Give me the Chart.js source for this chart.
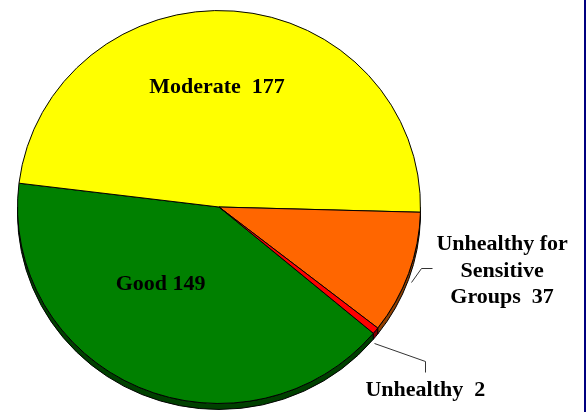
<!DOCTYPE html>
<html>
<head>
<meta charset="utf-8">
<script src="https://cdn.jsdelivr.net/npm/chart.js@4.4.1/dist/chart.umd.min.js"></script>
<style>
  html, body { margin: 0; padding: 0; background: #fff; }
  #wrap { width: 584px; height: 412px; border-right: 2px solid #000080; }
</style>
</head>
<body>
<div id="wrap"><canvas id="aqi" width="584" height="412"></canvas></div>
<script>
// AQI days per category
const categories = ['Good', 'Moderate', 'Unhealthy for Sensitive Groups', 'Unhealthy'];
const dayCounts = [149, 177, 37, 2];
const topColors = ['#008000', '#FFFF00', '#FF6600', '#FF0000'];
const sideColors = ['#004000', '#7F7F00', '#8F3F00', '#7F0000'];

// label text, split into lines
const labelLines = [
    ['Good 149'],
    ['Moderate  177'],
    ['Unhealthy for', 'Sensitive', 'Groups  37'],
    ['Unhealthy  2']
];
// label anchors in radius units from the pie centre
const labelSpots = [
    { x: -0.29, y: 0.395 },
    { x: -0.01, y: -0.61 },
    { x: 1.405, y: 0.325 },
    { x: 1.024, y: 0.934 }
];
// leader lines (radius units), null = none
const leaders = [
    null,
    null,
    [[1.057, 0.31], [1.002, 0.31], [0.953, 0.381]],
    [[0.770, 0.690], [1.022, 0.782], [1.022, 0.838]]
];

const squash = 0.975;   // pie is a bit flatter than round
const depth = 6;        // thickness of the 3D rim

const pie3d = {
    id: 'pie3d',
    beforeDatasetsDraw(chart) {
        const ctx = chart.ctx;
        const arcs = chart.getDatasetMeta(0).data;
        const cx = arcs[0].x, cy = arcs[0].y, r = arcs[0].outerRadius;
        ctx.save();
        ctx.translate(0, cy);
        ctx.scale(1, squash);
        ctx.translate(0, -cy);
        const d = depth / squash;
        arcs.forEach((a, i) => {
            const a0 = a.startAngle, a1 = a.endAngle;
            for (let k = -1; k <= 2; k++) {
                const lo = Math.max(a0, 2 * Math.PI * k);
                const hi = Math.min(a1, 2 * Math.PI * k + Math.PI);
                if (hi <= lo) continue;
                ctx.beginPath();
                ctx.arc(cx, cy, r, lo, hi);
                ctx.arc(cx, cy + d, r, hi, lo, true);
                ctx.closePath();
                ctx.fillStyle = sideColors[i];
                ctx.fill();
                ctx.lineWidth = 1;
                ctx.strokeStyle = '#000';
                ctx.stroke();
            }
        });
    },
    afterDatasetsDraw(chart) {
        const ctx = chart.ctx;
        ctx.restore();
        const a = chart.getDatasetMeta(0).data[0];
        const cx = a.x, cy = a.y, rx = a.outerRadius, ry = a.outerRadius * squash;
        ctx.save();
        // leader lines
        ctx.strokeStyle = '#333';
        ctx.lineWidth = 1;
        leaders.forEach(pts => {
            if (!pts) return;
            ctx.beginPath();
            pts.forEach((p, j) => {
                const px = Math.round(cx + p[0] * rx) + 0.5;
                const py = Math.round(cy + p[1] * ry) + 0.5;
                if (j === 0) ctx.moveTo(px, py); else ctx.lineTo(px, py);
            });
            ctx.stroke();
        });
        // labels
        ctx.fillStyle = '#000';
        ctx.font = 'bold 22px "Liberation Serif", "Times New Roman", serif';
        ctx.textAlign = 'center';
        ctx.textBaseline = 'middle';
        const lh = 26.5;
        labelLines.forEach((lines, i) => {
            const x = cx + labelSpots[i].x * rx;
            const y = cy + labelSpots[i].y * ry;
            const top = y - (lines.length - 1) * lh / 2;
            lines.forEach((t, j) => ctx.fillText(t, x, top + j * lh));
        });
        ctx.restore();
    }
};

new Chart(document.getElementById('aqi'), {
    type: 'pie',
    data: {
        labels: categories,
        datasets: [{
            data: dayCounts,
            backgroundColor: topColors,
            borderColor: '#000',
            borderWidth: 1
        }]
    },
    options: {
        responsive: false,
        animation: false,
        rotation: 130,
        layout: { padding: { left: 17, right: 163, top: 5, bottom: 3 } },
        plugins: {
            legend: { display: false },
            tooltip: { enabled: false }
        }
    },
    plugins: [pie3d]
});
</script>
</body>
</html>
